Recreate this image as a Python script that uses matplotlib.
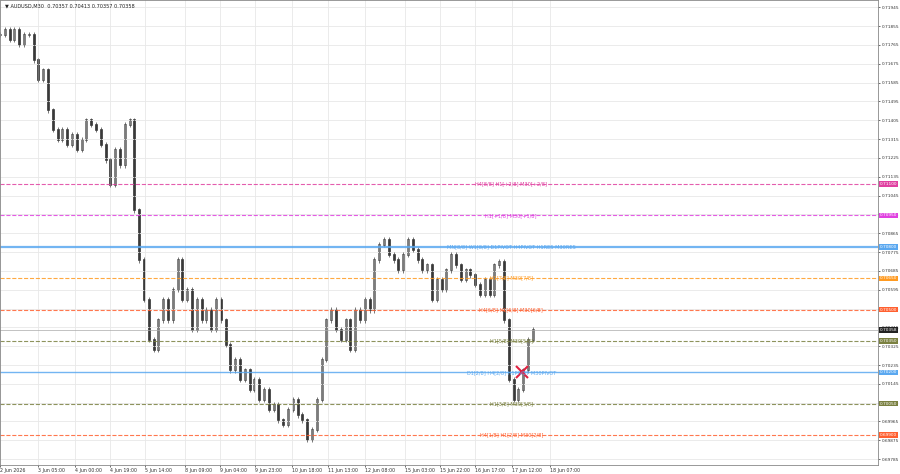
import matplotlib
matplotlib.use("Agg")
import matplotlib.pyplot as plt
import numpy as np

closes = [.71813,.71837,.71789,.71837,.71765,.71813,.71813,.71693,.71598,.71645,.71454,.71359,.71311,.71359,.71287,.71335,.71263,.71311,.71406,.71383,.71359,.71287,.71215,.71096,.71263,.71191,.71383,.71406,
          .70976,.70737,.70546,.70355,.70307,.70450,.70546,.70450,.70594,.70737,.70546,.70594,.70403,.70546,.70450,.70498,.70403,.70546,.70450,.70331,
          .70211,.70259,.70164,.70211,.70116,.70164,.70068,.70116,.70020,.70044,.69972,.69949,.70020,.70068,.69996,.69972,.69877,.69925,.70068,.70259,
          .70450,.70498,.70403,.70355,.70450,.70307,.70498,.70450,.70546,.70498,.70737,.70809,.70833,.70761,.70737,.70689,.70761,.70833,.70785,.70737,
          .70689,.70713,.70546,.70642,.70594,.70689,.70761,.70713,.70642,.70689,.70665,.70618,.70570,.70642,.70570,.70713,.70728,.70450,.70164,.70068,
          .70116,.70211,.70355,.70403]
tick_labels = ["2 Jun 2026","3 Jun 05:00","4 Jun 00:00","4 Jun 19:00","5 Jun 14:00","8 Jun 09:00","9 Jun 04:00","9 Jun 23:00",
               "10 Jun 18:00","11 Jun 13:00","12 Jun 08:00","15 Jun 03:00","15 Jun 22:00","16 Jun 17:00","17 Jun 12:00","18 Jun 07:00"]
tick_pos = [0,7.9,15.6,22.9,30.2,38.5,45.8,53.1,60.8,68.3,76,84.4,91.7,99,106.7,114.6]
levels = [0.71100,0.70950,0.70800,0.70650,0.70500,0.70350,0.70200,0.70050,0.69900]
level_text = ["H4[8/8] H1[+2/8] M30[+2/8]","H1[+1/8] M30[+1/8]","MN[8/8] W1[8/8] D1PIVOT H4PIVOT H1RES M30RES",
              "H1[7/8] M30[7/8]","H4[6/8] H1[6/8] M30[6/8]","H1[5/8] M30[5/8]","D1[2/8] H4[2/8] H1PIVOT M30PIVOT",
              "H1[3/8] M30[3/8]","H4[1/8] H1[2/8] M30[2/8]"]
level_color = ["#e040a0","#e040e0","#5aa8f0","#ff9a20","#ff6030","#7a8040","#5aa8f0","#7a8040","#ff6030"]
level_style = ["--","--","-","--","--","--","-","--","--"]
level_lw = [0.8,0.8,1.6,0.8,0.8,0.8,1.0,0.8,0.8]
yticks = [0.71945 - k*0.0009 for k in range(25)]

fig = plt.figure(figsize=(9,4.74), dpi=100)
ax = fig.add_axes([0.0, 0.019, 0.976, 0.981])
ax.set_xlim(0, 183)
ax.set_ylim(0.69757, 0.71980)
ax.set_xticks(tick_pos)
ax.set_xticklabels(tick_labels, fontsize=3.4, ha="left")
ax.set_yticks(yticks)
ax.set_yticklabels([f"{v:.5f}" for v in yticks], fontsize=3.1)
ax.yaxis.tick_right()
ax.tick_params(length=1.5, width=0.5, pad=0.8, colors="#333333")
ax.grid(True, color="#e8e8e8", lw=0.6)
for s in ax.spines.values():
    s.set_color("#888888"); s.set_linewidth(0.6)

x = np.arange(len(closes))
opens = [closes[0]] + closes[:-1]
for i in x:
    lo, hi = min(opens[i], closes[i]), max(opens[i], closes[i])
    ax.vlines(i, lo - 0.00012, hi + 0.00012, color="#444444", lw=0.5)
    ax.bar(i, hi - lo + 0.00003, bottom=lo, width=0.4, color="#222222" if closes[i] < opens[i] else "white",
           edgecolor="#222222", lw=0.4)

for lv, t, c, ls, lw in zip(levels, level_text, level_color, level_style, level_lw):
    ax.axhline(lv, color=c, ls=ls, lw=lw, alpha=0.85)
    ax.text(106.5, lv, t, color=c, fontsize=3.6, ha="center", va="center")
    ax.text(1.002, lv, f"{lv:.5f}", transform=ax.get_yaxis_transform(), fontsize=3.1, color="white",
            va="center", ha="left", bbox=dict(facecolor=c, edgecolor="none", pad=0.5))
ax.axhline(closes[-1], color="#aaaaaa", lw=0.5)
ax.text(1.002, closes[-1], "0.70358", transform=ax.get_yaxis_transform(), fontsize=3.1, color="white",
        va="center", ha="left", bbox=dict(facecolor="#222222", edgecolor="none", pad=0.5))
ax.plot([108.7], [0.70200], marker="x", color="#e02040", ms=9, mew=1.5)
ax.text(0.006, 0.992, "▼ AUDUSD,M30  0.70357 0.70413 0.70357 0.70358", transform=ax.transAxes,
        fontsize=3.6, va="top", color="#222222")
fig.savefig("out.png", dpi=100)
